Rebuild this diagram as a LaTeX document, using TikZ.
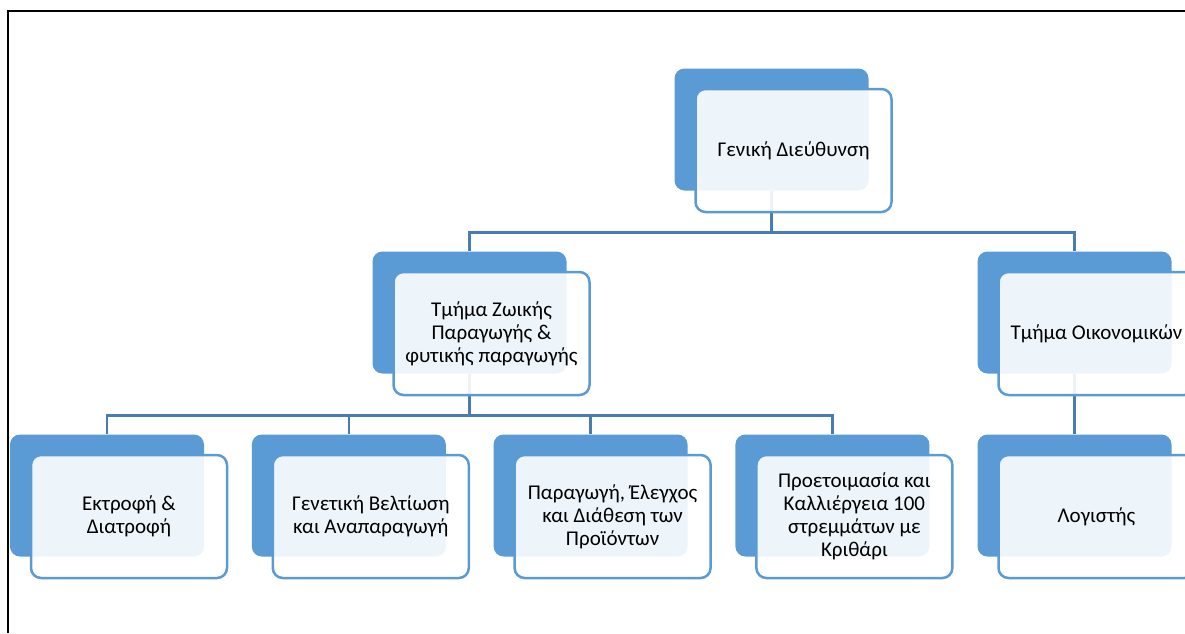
\documentclass[tikz,border=0pt]{standalone}
\usepackage{fontspec}
\setmainfont{Carlito}
\usepackage{tikz}
\usetikzlibrary{positioning,backgrounds,calc}
\definecolor{accent}{RGB}{91,155,213}
\definecolor{linkblue}{RGB}{72,124,178}
\tikzstyle{link}=[draw,linkblue,line width=2.5pt]
\tikzstyle{back} =
  [rectangle, fill=accent, rounded corners=10pt, inner sep=0pt,
   minimum width=194pt, minimum height=122pt]
\tikzstyle{front} =
  [rectangle, draw=accent, line width=2.5pt, fill=white, fill opacity=0.9,
   text opacity=1, rounded corners=10pt, minimum width=196pt, minimum height=123pt,
   align=center, font=\fontsize{21}{23}\selectfont, xshift=22pt, yshift=-21pt]

\begin{document}
\begin{tikzpicture}[x=1pt, y=-1pt, node distance = 183pt]
  \useasboundingbox (0,0) rectangle (1185,633);
  \clip (0,0) rectangle (1185,633);
  \draw [black, line width=2.5pt] (8,633) -- (8,11) -- (1185,11);

  \node [back] (gdb) at (771.5,129.5) {};
  \node [front] (gd) at (gdb) {Γενική Διεύθυνση};

  \node [back, below of=gdb, xshift=-302pt] (zpb) {};
  \node [front] (zp) at (zpb) {Τμήμα Ζωικής\\Παραγωγής \&\\φυτικής παραγωγής};
  \node [back, below of=gdb, xshift=303pt] (oikb) {};
  \node [front] (oik) at (oikb) {Τμήμα Οικονομικών};

  \node [back, below of=zpb, xshift=-362.5pt] (ekb) {};
  \node [front] (ek) at (ekb) {Εκτροφή \&\\Διατροφή};
  \node [back, right of=ekb, node distance=241.8pt] (gbb) {};
  \node [front] (gb) at (gbb) {Γενετική Βελτίωση\\και Αναπαραγωγή};
  \node [back, right of=gbb, node distance=241.8pt] (peb) {};
  \node [front] (pe) at (peb) {Παραγωγή, Έλεγχος\\και Διάθεση των\\Προϊόντων};
  \node [back, right of=peb, node distance=241.8pt] (pkb) {};
  \node [front] (pk) at (pkb) {Προετοιμασία και\\Καλλιέργεια 100\\στρεμμάτων με\\Κριθάρι};
  \node [back, below of=oikb] (lob) {};
  \node [front] (lo) at (lob) {Λογιστής};

  \coordinate (bus1) at ($(gd.south)!0.5!(zpb.north)$);
  \coordinate (bus2) at ($(zp.south)!0.5!(ekb.north)$);

  \begin{scope}[on background layer]
    \draw [link] (gdb) -- (gdb |- bus1) -| (zpb);
    \draw [link] (gdb |- bus1) -| (oikb);
    \draw [link] (zpb) -- (zpb |- bus2) -| (ekb);
    \draw [link] (zpb |- bus2) -| (pkb);
    \draw [link] (gbb |- bus2) -- (gbb);
    \draw [link] (peb |- bus2) -- (peb);
    \draw [link] (oikb) -- (lob);
  \end{scope}
\end{tikzpicture}
\end{document}
